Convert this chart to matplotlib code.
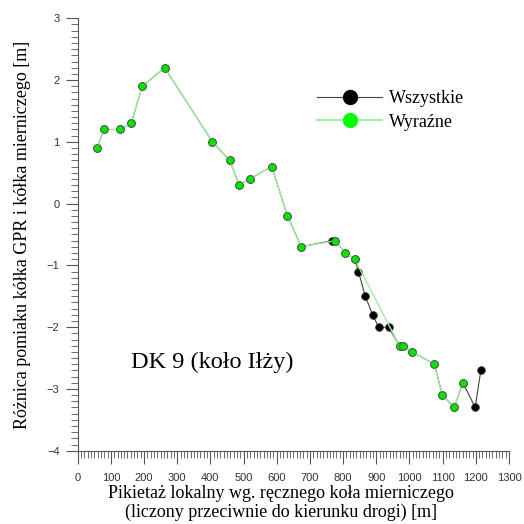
import numpy as np
import matplotlib
matplotlib.use("Agg")
import matplotlib.pyplot as plt
from matplotlib.lines import Line2D
from matplotlib.ticker import MultipleLocator

# all points (Wszystkie)
x_all = [58, 80, 127, 161, 195, 262, 406, 458, 487, 518, 585, 632, 674, 765, 776, 807,
         835, 846, 867, 889, 907, 937, 970, 980, 1007, 1075, 1099, 1135, 1161, 1198, 1215]
y_all = [0.9, 1.2, 1.2, 1.3, 1.9, 2.2, 1.0, 0.7, 0.3, 0.4, 0.6, -0.2, -0.7, -0.6, -0.6, -0.8,
         -0.9, -1.1, -1.5, -1.8, -2.0, -2.0, -2.3, -2.3, -2.4, -2.6, -3.1, -3.3, -2.9, -3.3, -2.7]

# clear points only (Wyraźne)
x_clear = [58, 80, 127, 161, 195, 262, 406, 458, 487, 518, 585, 632, 674, 776, 807,
           835, 970, 980, 1007, 1075, 1099, 1135, 1161]
y_clear = [0.9, 1.2, 1.2, 1.3, 1.9, 2.2, 1.0, 0.7, 0.3, 0.4, 0.6, -0.2, -0.7, -0.6, -0.8,
           -0.9, -2.3, -2.3, -2.4, -2.6, -3.1, -3.3, -2.9]

serif = "Liberation Serif"
sans = "Liberation Sans"
axis_col = "#555555"

fig = plt.figure(figsize=(5.24, 5.24), dpi=100)
ax = fig.add_axes([0.1483, 0.1399, 0.8231, 0.8252])

ax.plot(x_all, y_all, color="#404040", lw=0.8, marker="o", ms=5.5,
        mfc="black", mec="#333333", mew=0.6, zorder=2)
ax.plot(x_clear, y_clear, color="#a0f0a0", lw=1.0, marker="o", ms=5.5,
        mfc="#00e600", mec="#555555", mew=0.6, zorder=3)

ax.set_xlim(0, 1300)
ax.set_ylim(-4, 3)
ax.xaxis.set_major_locator(MultipleLocator(100))
ax.xaxis.set_minor_locator(MultipleLocator(10))
ax.yaxis.set_major_locator(MultipleLocator(1))
ax.yaxis.set_minor_locator(MultipleLocator(0.1))

for s in ["top", "right"]:
    ax.spines[s].set_visible(False)
for s in ["left", "bottom"]:
    ax.spines[s].set_color(axis_col)
    ax.spines[s].set_linewidth(0.8)

ax.tick_params(axis="both", which="major", direction="out", length=9, width=0.8,
               color=axis_col, labelcolor="#333333", labelsize=8)
ax.tick_params(axis="both", which="minor", direction="out", length=5, width=0.6,
               color=axis_col)
ax.tick_params(axis="x", which="major", pad=7)
ax.tick_params(axis="y", which="major", pad=4)
for lab in ax.get_xticklabels() + ax.get_yticklabels():
    lab.set_fontfamily(sans)

ax.set_xlabel("Pikietaż lokalny wg. ręcznego koła mierniczego\n(liczony przeciwnie do kierunku drogi) [m]",
              fontfamily=serif, fontsize=13, linespacing=1.12)
ax.xaxis.set_label_coords(0.471, -0.08, transform=ax.transAxes)
ax.xaxis.label.set_va("top")
ax.set_ylabel("Różnica pomiaku kółka GPR i kółka mierniczego [m]",
              fontfamily=serif, fontsize=13)
ax.yaxis.set_label_coords(-0.108, 0.5, transform=ax.transAxes)

ax.text(160, -2.57, "DK 9 (koło Iłży)", fontfamily=serif, fontsize=17.5,
        ha="left", va="center")

handles = [
    Line2D([], [], color="#404040", lw=0.8, marker="o", ms=10, mfc="black", mec="black"),
    Line2D([], [], color="#a0f0a0", lw=1.5, marker="o", ms=10, mfc="#00ff00", mec="#00ff00"),
]
ax.legend(handles, ["Wszystkie", "Wyraźne"], loc="upper left",
          bbox_to_anchor=(0.555, 0.833), frameon=False, handlelength=3.6,
          handletextpad=0.4, labelspacing=0.35, borderaxespad=0, borderpad=0,
          prop={"family": serif, "size": 13})

fig.savefig("out.png", dpi=100)
